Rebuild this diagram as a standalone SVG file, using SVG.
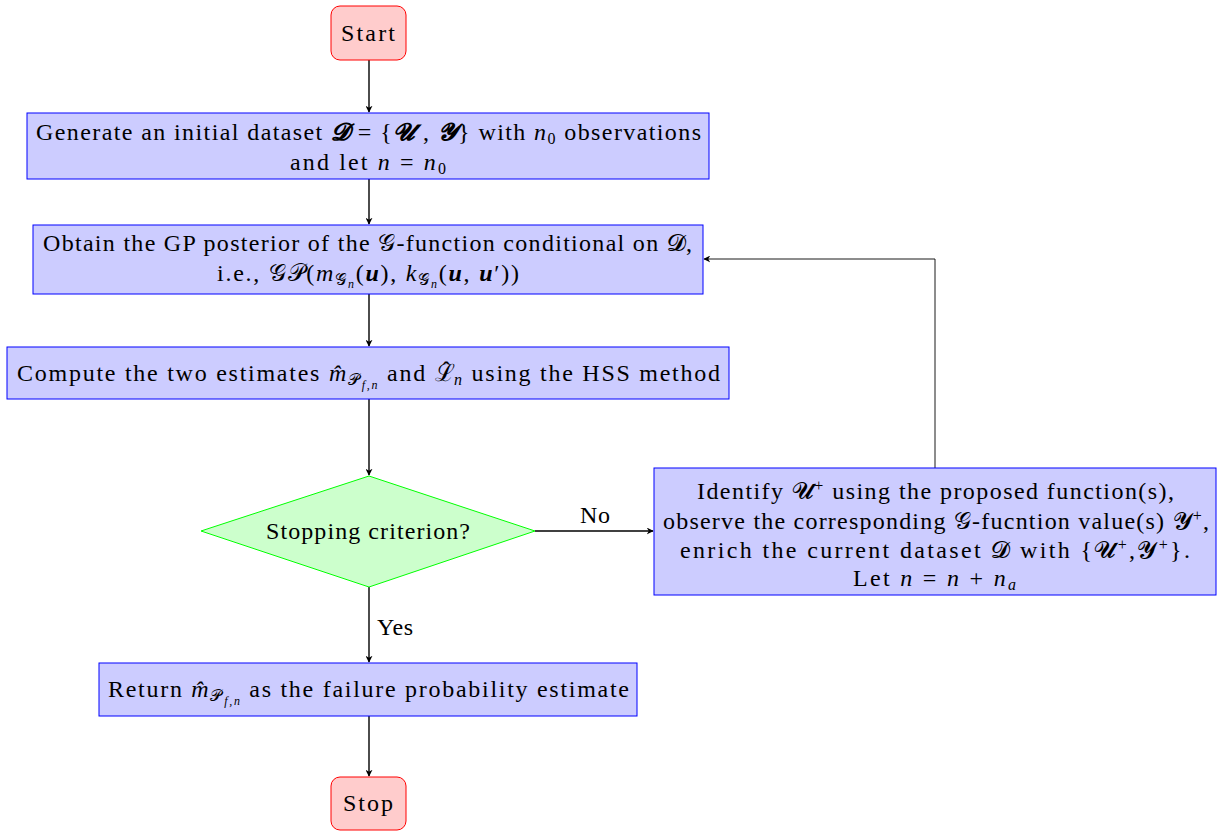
<svg xmlns="http://www.w3.org/2000/svg" width="1218" height="831" viewBox="0 0 1218 831">
<style>
.t{font-family:"Liberation Serif","DejaVu Serif",serif;font-size:24px;fill:#000}
.i{font-style:italic}
.b{font-weight:bold;font-style:italic}
.s{font-size:16px}
.ss{font-size:12px}
.term{fill:#ffcccc;stroke:#ff0000;stroke-width:1}
.proc{fill:#ccccff;stroke:#0000ff;stroke-width:1}
.dec{fill:#ccffcc;stroke:#00ff00;stroke-width:1}
.c{stroke:#000;stroke-width:1.4;fill:none}
.thin{stroke:#000;stroke-width:0.9;fill:none}
</style>
<defs>
<marker id="ah" viewBox="0 0 10 10" refX="9" refY="5" markerWidth="7" markerHeight="7" markerUnits="userSpaceOnUse" orient="auto">
<path d="M0,0 L10,5 L0,10 L3,5 z" fill="#000"/>
</marker>
</defs>
<rect width="1218" height="831" fill="#fff"/>
<g id="connectors">
<line class="c" x1="369" y1="60" x2="369" y2="112" marker-end="url(#ah)"/>
<line class="c" x1="369" y1="179" x2="369" y2="224" marker-end="url(#ah)"/>
<line class="c" x1="369" y1="294" x2="369" y2="346" marker-end="url(#ah)"/>
<line class="c" x1="369" y1="399" x2="369" y2="475" marker-end="url(#ah)"/>
<line class="c" x1="535" y1="531" x2="653" y2="531" marker-end="url(#ah)"/>
<line class="c" x1="369" y1="587" x2="369" y2="662" marker-end="url(#ah)"/>
<line class="c" x1="369" y1="716" x2="369" y2="776" marker-end="url(#ah)"/>
<polyline class="thin" points="935,468 935,259 704,259" marker-end="url(#ah)"/>
<text class="t" x="580" y="523" textLength="30">No</text>
<text class="t" x="377" y="635" textLength="36">Yes</text>
</g>
<g id="start">
<rect class="term" x="331" y="6" width="75" height="54" rx="9"/>
<text class="t" x="341" y="41" textLength="54">Start</text>
</g>
<g id="init">
<rect class="proc" x="27" y="113" width="682" height="66"/>
<text class="t" x="36" y="140" textLength="665">Generate an initial dataset <tspan class="b">𝓓</tspan> = {<tspan class="b">𝓤</tspan> , <tspan class="b">𝓨</tspan>} with <tspan class="i">n</tspan><tspan class="s" dy="4">0</tspan><tspan dy="-4"> observations</tspan></text>
<text class="t" x="290" y="170" textLength="156">and let <tspan class="i">n</tspan> = <tspan class="i">n</tspan><tspan class="s" dy="4">0</tspan></text>
</g>
<g id="posterior">
<rect class="proc" x="33" y="225" width="670" height="69"/>
<text class="t" x="43" y="251" textLength="649">Obtain the GP posterior of the <tspan>𝒢</tspan>-function conditional on <tspan>𝓓</tspan>,</text>
<text class="t" x="217" y="281" textLength="302">i.e., 𝒢𝒫(<tspan class="i">m</tspan><tspan class="s" dy="4">𝒢</tspan><tspan class="ss i" dy="3">n</tspan><tspan dy="-7">(</tspan><tspan class="b">u</tspan>), <tspan class="i">k</tspan><tspan class="s" dy="4">𝒢</tspan><tspan class="ss i" dy="3">n</tspan><tspan dy="-7">(</tspan><tspan class="b">u</tspan>, <tspan class="b">u</tspan>′))</text>
</g>
<g id="compute">
<rect class="proc" x="7" y="347" width="722" height="52"/>
<text class="t" x="17" y="381" textLength="703">Compute the two estimates <tspan class="i">m̂</tspan><tspan class="s" dy="4">𝒫</tspan><tspan class="ss i" dy="4">f,n</tspan><tspan dy="-8"> and ℒ</tspan><tspan dx="-14" dy="-3">ˆ</tspan><tspan class="s i" dx="2" dy="7">n</tspan><tspan dy="-4"> using the HSS method</tspan></text>
</g>
<g id="stopping">
<polygon class="dec" points="369,476 535,531 369,587 201,531"/>
<text class="t" x="266" y="539" textLength="204">Stopping criterion?</text>
</g>
<g id="enrich">
<rect class="proc" x="654" y="468" width="562" height="127"/>
<text class="t" x="697" y="499" textLength="477">Identify <tspan>𝓤</tspan><tspan class="s" dy="-8">+</tspan><tspan dy="8"> using the proposed function(s),</tspan></text>
<text class="t" x="663" y="529" textLength="546">observe the corresponding 𝒢-fucntion value(s) <tspan>𝓨</tspan><tspan class="s" dy="-8">+</tspan><tspan dy="8">,</tspan></text>
<text class="t" x="680" y="558" textLength="510">enrich the current dataset 𝓓 with {<tspan>𝓤</tspan><tspan class="s" dy="-8">+</tspan><tspan dy="8">,</tspan><tspan>𝓨</tspan><tspan class="s" dy="-8">+</tspan><tspan dy="8">}.</tspan></text>
<text class="t" x="853" y="586" textLength="163">Let <tspan class="i">n</tspan> = <tspan class="i">n</tspan> + <tspan class="i">n</tspan><tspan class="s i" dy="4">a</tspan></text>
</g>
<g id="return">
<rect class="proc" x="99" y="663" width="538" height="53"/>
<text class="t" x="108" y="697" textLength="521">Return <tspan class="i">m̂</tspan><tspan class="s" dy="4">𝒫</tspan><tspan class="ss i" dy="4">f,n</tspan><tspan dy="-8"> as the failure probability estimate</tspan></text>
</g>
<g id="stop">
<rect class="term" x="331" y="777" width="75" height="53" rx="9"/>
<text class="t" x="343" y="811" textLength="50">Stop</text>
</g>
</svg>
